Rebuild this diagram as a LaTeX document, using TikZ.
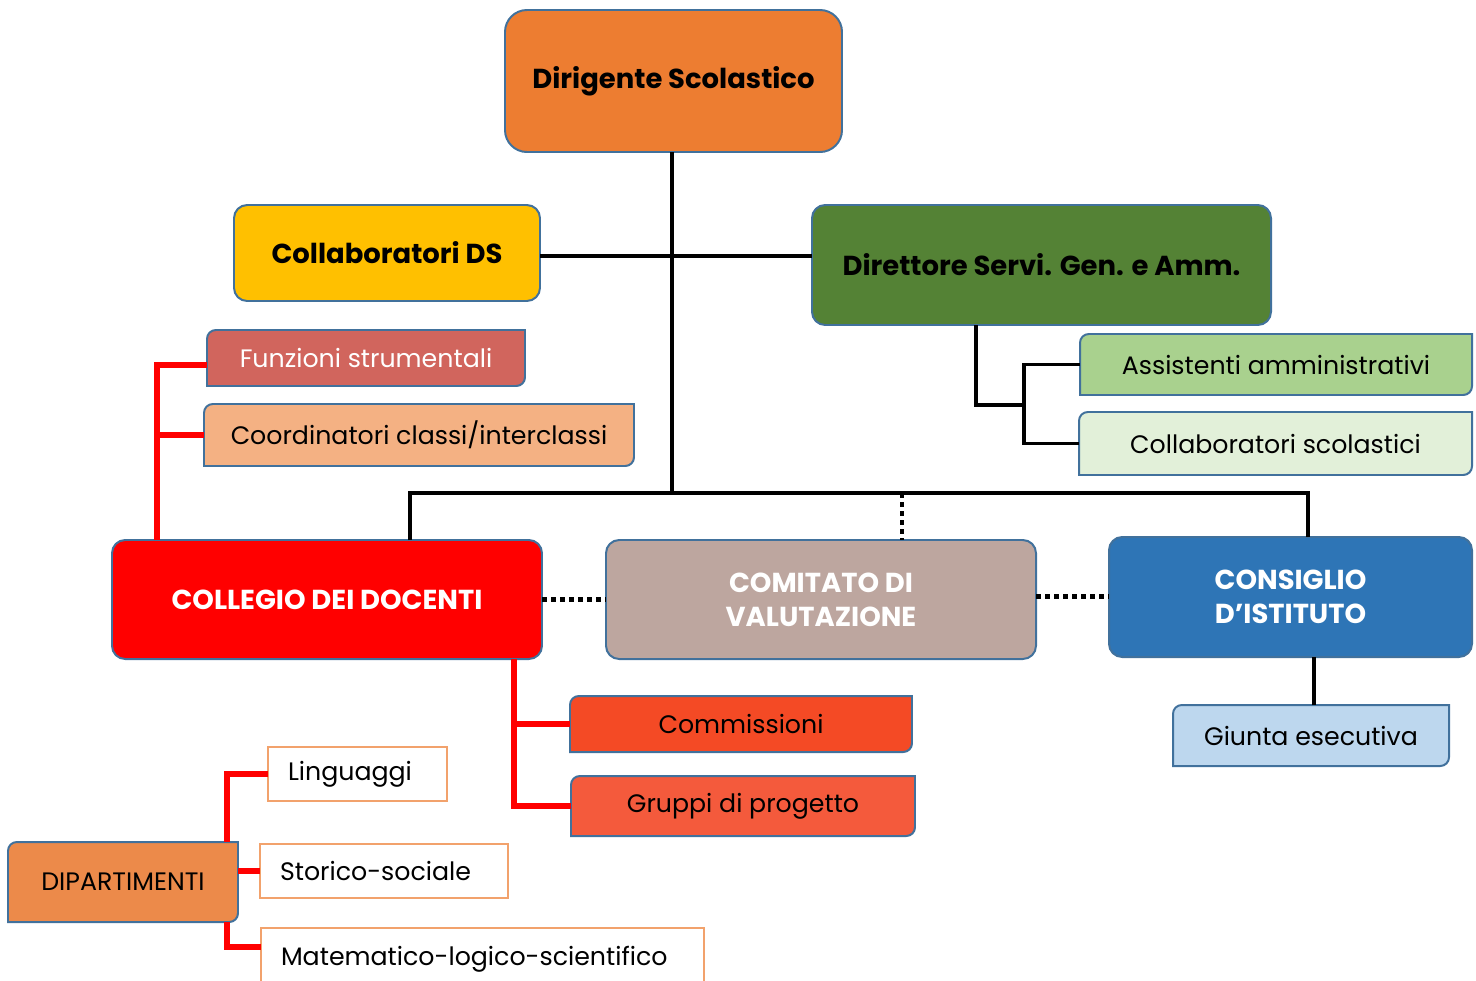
\documentclass[tikz,border=0pt]{standalone}
\usepackage{fontspec}
\setmainfont{Poppins}
\usetikzlibrary{backgrounds}

\definecolor{bordo}{HTML}{41719C}
\definecolor{bordoarancio}{HTML}{F2A26C}
\definecolor{dircol}{HTML}{ED7D31}
\definecolor{colldscol}{HTML}{FFC000}
\definecolor{dsgacol}{HTML}{548235}
\definecolor{funzcol}{HTML}{D1655D}
\definecolor{coordcol}{HTML}{F4B183}
\definecolor{assistcol}{HTML}{A9D18E}
\definecolor{collsccol}{HTML}{E2F0D9}
\definecolor{collegiocol}{HTML}{FF0000}
\definecolor{comitatocol}{HTML}{BDA69F}
\definecolor{consigliocol}{HTML}{2E75B6}
\definecolor{commcol}{HTML}{F44A25}
\definecolor{gruppicol}{HTML}{F45A3C}
\definecolor{giuntacol}{HTML}{BDD7EE}
\definecolor{dipcol}{HTML}{EC8A4A}

\newcommand{\pu}{0.016cm}

\tikzset{
  box/.style={inner sep=0pt, outer sep=0pt, align=center,
    font=\fontsize{11.5}{15.5}\selectfont},
  roundbox/.style={box, draw=bordo, line width=0.9pt, rounded corners=6pt,
    font=\fontsize{12.5}{15.5}\selectfont\bfseries},
  plainbox/.style={box, draw=bordoarancio, line width=0.8pt, align=left,
    inner xsep=0.32cm},
  conn/.style={line width=1.4pt},
  dotconn/.style={line width=2.2pt, dash pattern=on 2.4pt off 1.7pt},
  redconn/.style={red, line width=2.3pt},
}

\begin{document}
\begin{tikzpicture}[x=\pu, y=-\pu]
\useasboundingbox (0,0) rectangle (1476,980);

% vertici
\node[roundbox, rounded corners=10pt, fill=dircol, minimum width=337*\pu, minimum height=142*\pu]
  (dir) at (673.5,81) {Dirigente Scolastico};
\node[roundbox, fill=colldscol, minimum width=306*\pu, minimum height=96*\pu]
  (collds) at (387,253) {Collaboratori DS};
\node[roundbox, fill=dsgacol, minimum width=459*\pu, minimum height=120*\pu]
  (dsga) at (1041.5,265) {Direttore Servi. Gen. e Amm.};

% organi collegiali
\node[roundbox, fill=collegiocol, text=white, minimum width=430*\pu, minimum height=119*\pu]
  (collegio) at (327,599.5) {COLLEGIO DEI DOCENTI};
\node[roundbox, fill=comitatocol, text=white, minimum width=430*\pu, minimum height=119*\pu]
  (comitato) at (821,599.5) {COMITATO DI\\VALUTAZIONE};
\node[roundbox, fill=consigliocol, text=white, minimum width=363*\pu, minimum height=120*\pu]
  (consiglio) at (1290.5,597) {CONSIGLIO\\D’ISTITUTO};

% caselle con due angoli arrotondati
\node[box, text=white, minimum width=318*\pu, minimum height=56*\pu] (funz) at (366,358) {Funzioni strumentali};
\node[box, minimum width=430*\pu, minimum height=62*\pu] (coord) at (419,435) {Coordinatori classi/interclassi};
\node[box, minimum width=392*\pu, minimum height=61*\pu] (assist) at (1276,364.5) {Assistenti amministrativi};
\node[box, minimum width=393*\pu, minimum height=63*\pu] (collsc) at (1275.5,443.5) {Collaboratori scolastici};
\node[box, minimum width=342*\pu, minimum height=56*\pu] (comm) at (741,724) {Commissioni};
\node[box, minimum width=344*\pu, minimum height=60*\pu] (gruppi) at (743,806) {Gruppi di progetto};
\node[box, minimum width=276*\pu, minimum height=61*\pu] (giunta) at (1311,735.5) {Giunta esecutiva};
\node[box, minimum width=230*\pu, minimum height=80*\pu] (dip) at (123,882) {DIPARTIMENTI};

\begin{scope}[on background layer]
\foreach \n/\c in {funz/funzcol, coord/coordcol, assist/assistcol, collsc/collsccol,
                   comm/commcol, gruppi/gruppicol, giunta/giuntacol, dip/dipcol}
  \filldraw[draw=bordo, line width=0.9pt, fill=\c]
    ([yshift=-4pt]\n.north west) arc[start angle=180, end angle=90, radius=4pt]
    -- (\n.north east) -- ([yshift=4pt]\n.south east)
    arc[start angle=0, end angle=-90, radius=4pt] -- (\n.south west) -- cycle;
\end{scope}

% dipartimenti
\node[plainbox, text width=139*\pu, minimum height=54*\pu] (ling) at (357.5,774) {Linguaggi};
\node[plainbox, text width=208*\pu, minimum height=54*\pu] (stor) at (384,871) {Storico-sociale};
\node[plainbox, text width=403*\pu, minimum height=62*\pu] (mate) at (482.5,959) {Matematico-logico-scientifico};

% linee nere
\coordinate (busl) at (410,493);
\coordinate (busr) at (1308,493);
\coordinate (busm) at (902,493);
\draw[conn] ([xshift=-1.5*\pu]dir.south) -- ([xshift=-1.5*\pu]dir.south |- busl);
\draw[conn] (collegio.north -| busl) -- (busl) -- (busr) -- (consiglio.north -| busr);
\draw[dotconn] (busm) -- (busm |- comitato.north);
\draw[conn] ([yshift=-3*\pu]collds.east) -- ([yshift=-3*\pu]collds.east -| dsga.west);
\coordinate (dsgagiu) at (976,405);
\coordinate (fork) at (1024,405);
\draw[conn] (dsgagiu |- dsga.south) -- (dsgagiu) -- (fork);
\draw[conn] (assist.west) -| (fork) |- (collsc.west);
\draw[conn] (giunta.north -| 1314,0) -- (consiglio.south -| 1314,0);
\draw[dotconn] (collegio.east) -- (comitato.west);
\draw[dotconn] ([yshift=3*\pu]comitato.east) -- ([yshift=3*\pu]comitato.east -| consiglio.west);

% linee rosse
\coordinate (sxcoll) at (157,0);
\coordinate (dxcoll) at (514,0);
\coordinate (dipsp) at (227,0);
\draw[redconn] (sxcoll |- collegio.north) |- ([yshift=-7*\pu]funz.west);
\draw[redconn] (sxcoll |- coord.west) -- (coord.west);
\draw[redconn] (dxcoll |- collegio.south) |- (gruppi.west);
\draw[redconn] (dxcoll |- comm.west) -- (comm.west);
\draw[redconn] (ling.west) -| (dipsp |- dip.north);
\draw[redconn] (dip.east |- stor.west) -- (stor.west);
\coordinate (mateline) at (261,947);
\draw[redconn] (dipsp |- dip.south) |- (mateline);
\end{tikzpicture}
\end{document}
